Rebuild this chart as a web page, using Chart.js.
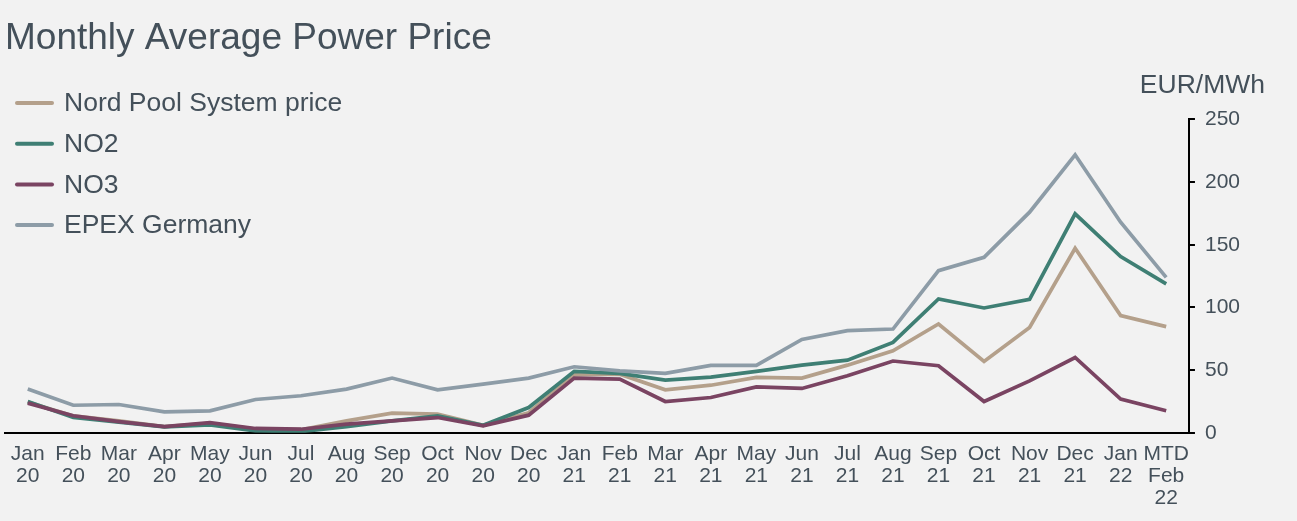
<!DOCTYPE html>
<html>
<head>
<meta charset="utf-8">
<script src="https://cdn.jsdelivr.net/npm/chart.js@4/dist/chart.umd.min.js"></script>
<style>
  html, body { margin: 0; padding: 0; background: #f2f2f2; }
  canvas { display: block; }
</style>
</head>
<body>
<canvas id="myChart" width="1297" height="521"></canvas>
<script>
const months = [
  ['Jan', '20'], ['Feb', '20'], ['Mar', '20'], ['Apr', '20'], ['May', '20'], ['Jun', '20'],
  ['Jul', '20'], ['Aug', '20'], ['Sep', '20'], ['Oct', '20'], ['Nov', '20'], ['Dec', '20'],
  ['Jan', '21'], ['Feb', '21'], ['Mar', '21'], ['Apr', '21'], ['May', '21'], ['Jun', '21'],
  ['Jul', '21'], ['Aug', '21'], ['Sep', '21'], ['Oct', '21'], ['Nov', '21'], ['Dec', '21'],
  ['Jan', '22'], ['MTD', 'Feb', '22']
];
const systemPrice = [24.5, 13.5, 9.5, 5, 7.5, 3, 2.5, 9.6, 15.7, 14.9, 6, 16, 46.3, 46.8, 34.3, 38, 44.2, 43.7, 54, 65.5, 86.8, 57, 84.1, 147.2, 93.5, 84.7];
const no2 = [25, 12.2, 8.5, 4.7, 6.4, 1.6, 1, 5, 9.6, 13.5, 6, 20.2, 49, 47.4, 42, 44.5, 49, 54, 58, 72.1, 106.8, 99.6, 106.5, 174.7, 140.6, 118.8];
const no3 = [23.7, 13.6, 9, 5, 8.2, 3.5, 2.9, 6.9, 9.6, 12.2, 5.6, 14.1, 43.7, 42.9, 25, 28.2, 36.7, 35.4, 45.5, 57.3, 53.5, 25, 41.5, 60.1, 26.9, 17.6];
const epex = [35, 22, 22.6, 16.8, 17.6, 26.6, 29.6, 34.9, 43.7, 34.3, 38.9, 43.7, 52.7, 49.5, 47.4, 53.8, 53.8, 74.5, 81.5, 82.8, 129.4, 140, 176, 221.8, 168, 124];
const yTicks = [0, 50, 100, 150, 200, 250];

const textColor = '#44505a';
const fontFamily = '"Liberation Sans", Arial, sans-serif';

// legend + unit label drawn by hand, the legend sits over the plot
const sideText = {
  id: 'sideText',
  beforeDraw(chart) {
    const c = chart.ctx;
    c.save();
    c.fillStyle = '#f2f2f2';
    c.fillRect(0, 0, chart.width, chart.height);
    c.restore();
  },
  afterDraw(chart) {
    const c = chart.ctx;
    c.save();
    c.font = '26.5px ' + fontFamily;
    c.textBaseline = 'middle';
    chart.data.datasets.forEach((ds, i) => {
      const y = 103 + i * 40.7;
      c.strokeStyle = ds.borderColor;
      c.lineWidth = 4;
      c.lineCap = 'round';
      c.beginPath();
      c.moveTo(17, y);
      c.lineTo(52, y);
      c.stroke();
      c.fillStyle = textColor;
      c.fillText(ds.label, 64, y + 1);
    });
    c.textAlign = 'right';
    c.fillText('EUR/MWh', 1265, 86);
    c.restore();
  }
};

const ctx = document.getElementById('myChart');
new Chart(ctx, {
  type: 'line',
  data: {
    labels: months,
    datasets: [
      { label: 'Nord Pool System price', data: systemPrice, borderColor: '#b4a08b', order: 3 },
      { label: 'NO2', data: no2, borderColor: '#3f7f74', order: 2 },
      { label: 'NO3', data: no3, borderColor: '#7a4462', order: 1 },
      { label: 'EPEX Germany', data: epex, borderColor: '#8d9ca7', order: 0 }
    ]
  },
  options: {
    responsive: false,
    animation: false,
    layout: { padding: { left: 5, right: 47, top: 0, bottom: 10 } },
    elements: {
      line: { borderWidth: 3.7, tension: 0, fill: false },
      point: { radius: 0 }
    },
    scales: {
      x: {
        offset: true,
        grid: { display: false },
        border: { display: true, color: '#000', width: 2 },
        ticks: {
          color: textColor,
          font: { family: fontFamily, size: 21, lineHeight: 1.05 },
          maxRotation: 0,
          autoSkip: false,
          padding: 2
        }
      },
      y: {
        position: 'right',
        min: 0,
        max: 250,
        afterBuildTicks(axis) { axis.ticks = yTicks.map(v => ({ value: v })); },
        grid: { drawOnChartArea: false, drawTicks: true, tickLength: 6, color: '#000', lineWidth: 2 },
        border: { display: true, color: '#000', width: 2 },
        ticks: {
          color: textColor,
          font: { family: fontFamily, size: 21 },
          padding: 10
        }
      }
    },
    plugins: {
      legend: { display: false },
      tooltip: { enabled: false },
      title: {
        display: true,
        text: 'Monthly Average Power Price',
        align: 'start',
        color: textColor,
        font: { family: fontFamily, size: 37, weight: 'normal', lineHeight: 1.2 },
        padding: { top: 17, bottom: 58 }
      }
    }
  },
  plugins: [sideText]
});
</script>
</body>
</html>
